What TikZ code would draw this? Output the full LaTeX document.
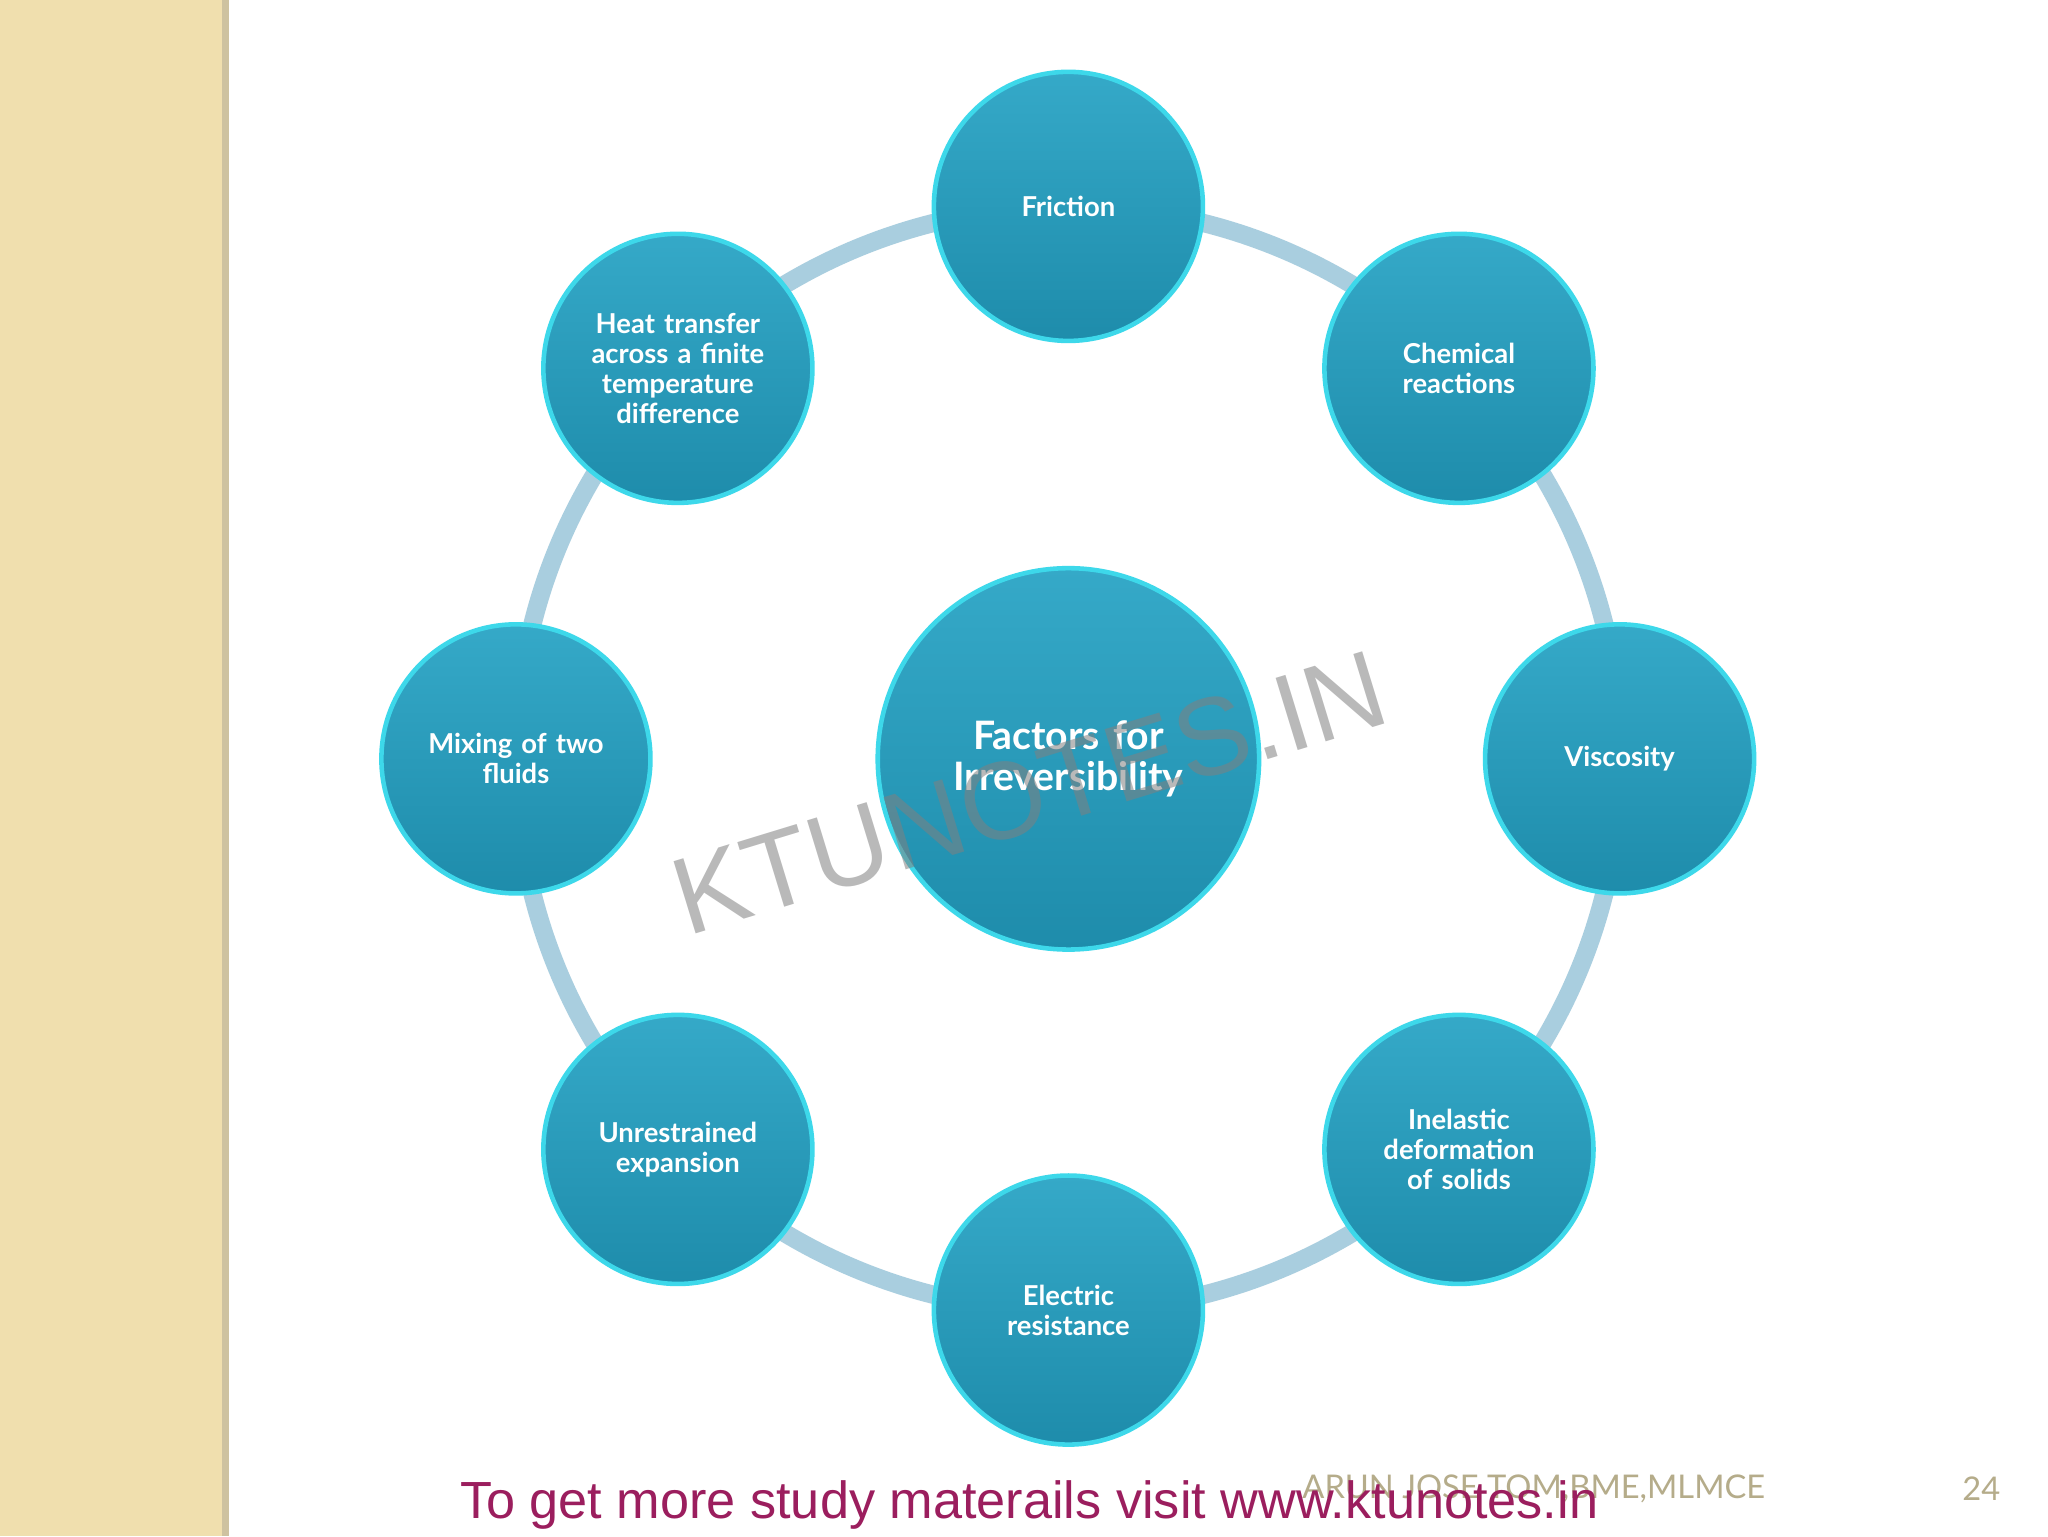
\documentclass[tikz,border=0pt]{standalone}
\usepackage{fontspec}
\setmainfont{Lato}
\newfontfamily\footfont{Liberation Sans}
\usetikzlibrary{shadings}
\definecolor{tealA}{HTML}{35A9C8}
\definecolor{tealB}{HTML}{1E8CAB}
\definecolor{rimC}{HTML}{3DD8EA}
\definecolor{ringC}{HTML}{A9CEDF}
\definecolor{sideC}{HTML}{F0DFAE}
\definecolor{footC}{HTML}{9B1E5E}
\definecolor{authC}{HTML}{B5AC8A}
\tikzset{
 bub/.style={circle,draw=rimC,line width=3.5pt,inner sep=0pt,minimum size=206pt,
   top color=tealA,bottom color=tealB,text=white,font=\bfseries\fontsize{21}{23}\selectfont,
   align=center,text width=160pt},
 bigbub/.style={bub,minimum size=292pt,font=\bfseries\fontsize{30}{32}\selectfont,text width=230pt}
}
\begin{document}
\begin{tikzpicture}[x=1pt,y=-1pt]
\useasboundingbox (0,0) rectangle (1568,1176);
\fill[white] (0,0) rectangle (1568,1176);
\fill[sideC] (0,0) rectangle (172,1176);
\fill[sideC!70!gray] (170,0) rectangle (175,1176);
\coordinate (c) at (818,581);
\draw[ringC,line width=14pt] (c) circle (423);
\node[bigbub] (center) at (c) {Factors for\\Irreversibility};
\node[bub] (fr) at (818,158) {Friction};
\node[bub] (ch) at (1117,282) {Chemical\\reactions};
\node[bub] (vi) at (1240,581) {Viscosity};
\node[bub] (in) at (1117,880) {Inelastic\\deformation\\of solids};
\node[bub] (el) at (818,1003) {Electric\\resistance};
\node[bub] (un) at (519,880) {Unrestrained\\expansion};
\node[bub] (mi) at (395,581) {Mixing of two\\fluids};
\node[bub] (he) at (519,282) {Heat transfer\\across a finite\\temperature\\difference};
\node[rotate=17,text=gray,opacity=0.55,font=\footfont\fontsize{84}{84}\selectfont] (wm) at (788,607) {KTUNOTES.IN};
\node[text=authC,font=\fontsize{25}{25}\selectfont,anchor=west,inner sep=0pt] (au) at (997,1140) {ARUN JOSE TOM,BME,MLMCE};
\node[text=authC,font=\fontsize{25}{25}\selectfont] (pg) at (1517,1140) {24};
\node[text=footC,font=\footfont\fontsize{40}{40}\selectfont,anchor=west,inner sep=0pt] (ft) at (352,1152) {To get more study materails visit www.ktunotes.in};
\end{tikzpicture}
\end{document}
